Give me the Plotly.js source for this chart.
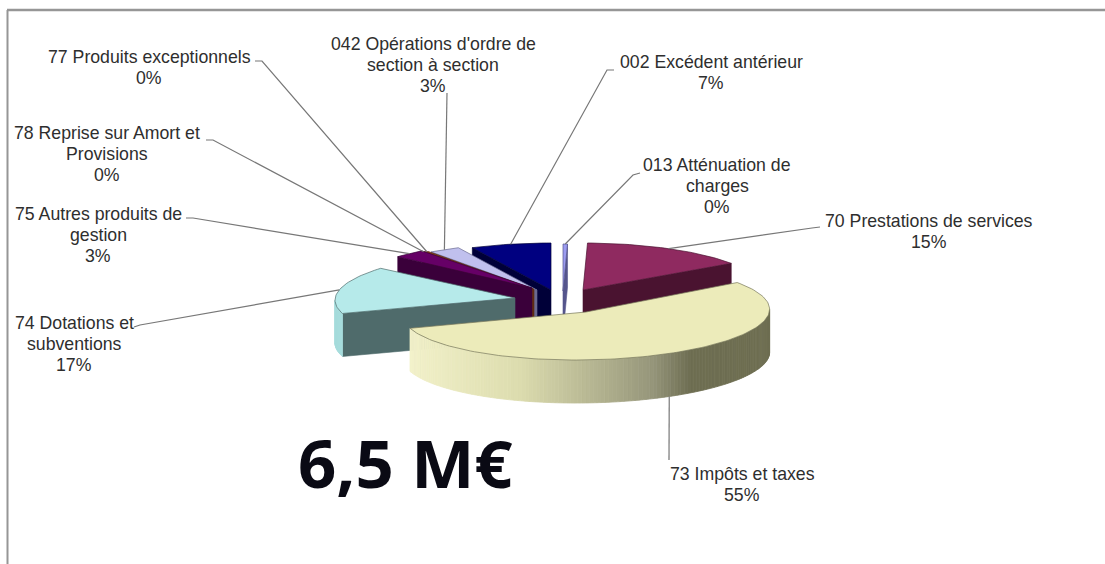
<!DOCTYPE html>
<html><head><meta charset="utf-8">
<script src="https://cdn.plot.ly/plotly-3.0.1.min.js"></script>
<style>html,body{margin:0;padding:0;background:#fff}#c{width:1105px;height:564px}</style>
</head><body><div id="c"></div><script>
// Data, in pie order, clockwise from 12 o'clock
const categories = ["013 Atténuation de charges","70 Prestations de services","73 Impôts et taxes","74 Dotations et subventions","75 Autres produits de gestion","78 Reprise sur Amort et Provisions","77 Produits exceptionnels","042 Opérations d'ordre de section à section","002 Excédent antérieur"];
const values = [0.4,15,55,16.2,2.9,0.2,0.3,2.8,7.2];
const percents = ["0%","15%","55%","17%","3%","0%","0%","3%","7%"];
const labelLines = [["013 Atténuation de","charges"],["70 Prestations de services"],["73 Impôts et taxes"],["74 Dotations et","subventions"],["75 Autres produits de","gestion"],["78 Reprise sur Amort et","Provisions"],["77 Produits exceptionnels"],["042 Opérations d'ordre de","section à section"],["002 Excédent antérieur"]];
const totalLabel = "6,5 M€";

// Appearance
const topCol  = ["#9c9cf0","#8f2a60","#ecebba","#b6eaea","#660066","#c8641e","#a04a20","#c0c0ee","#000080"];
const sideCol = ["#55558c","#4a1330","#8f8f70","#4f6b6b","#3a003a","#6a3410","#5a2a10","#6a6a90","#000038"];
const arcCol  = [null,null,null,"#a6dcdc",null,null,null,null,null];
const apexX = [563,583,586,515,532,533,534,537,551];
const apexY = [291,290,312,298,288,289,289.5,290,290];
const scaleR = [1,1,1.02,1,1,1,1,1,1];
const tilt = [0,0,0.015,0.012,0,0,0,0,0];
const RX = 180, RY = 47, DEPTH = 43;
// outer end of each leader: list of points running from the label towards the pie
const leaderFrom = [[[640,173],[633,175]],[[820,227],[812,228]],[[669,460]],[[134,327],[140,325]],[[186,218],[193,218]],[[206,140],[213,140]],[[255,61],[262,61]],[[447,93]],[[614,70],[607,70]]];
const leaderShift = [0,0,-1.4,0,0,0,0,0,0];
const labelCx = [717,929,742,74,98,107,149,433,711];
const labelY0 = [165,221,474,323,214,133,57,44,62];
const LINE_H = 21;

const rad = d => d*Math.PI/180;
const pt = (i,t,z) => {
  const dx=RX*scaleR[i]*Math.sin(rad(t));
  return [apexX[i]+dx, apexY[i]-RY*scaleR[i]*Math.cos(rad(t))-tilt[i]*dx+(z||0)];
};
const traces = [];
function poly(P, fill, line, w){
  traces.push({type:'scatter',mode:'lines',x:P.map(p=>p[0]).concat(P[0][0]),y:P.map(p=>p[1]).concat(P[0][1]),
    fill:'toself',fillcolor:fill,line:{color:line||fill,width:w===undefined?0.6:w},hoverinfo:'skip',showlegend:false});
}
function hex(c){return [1,3,5].map(k=>parseInt(c.substr(k,2),16));}
const ramp = [[410,"#f2f1ca"],[520,"#dcdcae"],[653,"#95957a"],[690,"#6e6e52"],[800,"#6e6e52"]];
function rampCol(x){
  for(let k=0;k<ramp.length-1;k++){
    if(x<=ramp[k+1][0]){
      const f=Math.max(0,(x-ramp[k][0])/(ramp[k+1][0]-ramp[k][0]));
      const a=hex(ramp[k][1]),b=hex(ramp[k+1][1]);
      return 'rgb('+a.map((v,j)=>Math.round(v+(b[j]-v)*f)).join(',')+')';
    }
  }
  return ramp[ramp.length-1][1];
}
// angular spans from the values
const total = values.reduce((a,b)=>a+b,0);
const spans = []; let acc=0;
values.forEach(v=>{spans.push([acc/total*360,(acc+v)/total*360]);acc+=v;});
// draw back to front
[0,1,8,7,6,5,4,3,2].forEach(i=>{
  const [s,e]=spans[i];
  const ap=[apexX[i],apexY[i]];
  const wall=t=>{const a=pt(i,t),b=pt(i,t,DEPTH);return [ap,a,b,[ap[0],ap[1]+DEPTH]];};
  if(Math.sin(rad(e))>0) poly(wall(e),sideCol[i]);
  if(Math.sin(rad(s))<0) poly(wall(s),sideCol[i]);
  // curved outer wall, only the part facing the viewer
  const a0=Math.max(s,90),a1=Math.min(e,270);
  if(a1>a0){
    const n=Math.max(2,Math.round((a1-a0)/1.2));
    for(let k=0;k<n;k++){
      const t0=a0+(a1-a0)*k/n,t1=a0+(a1-a0)*(k+1)/n;
      const p=[pt(i,t0),pt(i,t1),pt(i,t1,DEPTH),pt(i,t0,DEPTH)];
      const c=arcCol[i]||rampCol((p[0][0]+p[1][0])/2);
      poly(p,c,c,0.8);
    }
  }
  // top face
  const P=[ap];
  const n=Math.max(2,Math.round((e-s)/1.5));
  for(let k=0;k<=n;k++)P.push(pt(i,s+(e-s)*k/n));
  poly(P,topCol[i],i===2?"#77775a":sideCol[i],0.7);
});
// leader lines, ending on the slice's mid-angle
categories.forEach((c,i)=>{
  const m=(spans[i][0]+spans[i][1])/2+leaderShift[i];
  const end=pt(i,m,i===2?DEPTH:0);
  const P=leaderFrom[i].concat([end]);
  traces.push({type:'scatter',mode:'lines',x:P.map(p=>p[0]),y:P.map(p=>p[1]),line:{color:'#777777',width:1.2},hoverinfo:'skip',showlegend:false});
});
// labels
const annotations=[];
categories.forEach((c,i)=>{
  labelLines[i].concat(percents[i]).forEach((t,k)=>{
    annotations.push({xref:'x',yref:'y',x:labelCx[i],y:labelY0[i]+k*LINE_H,text:t,showarrow:false,xanchor:'center',yanchor:'middle',
      font:{family:'"Liberation Sans",Arial,sans-serif',size:17.7,color:'#2e2e2e'}});
  });
});
annotations.push({xref:'x',yref:'y',x:405,y:462,text:'<b>'+totalLabel+'</b>',showarrow:false,xanchor:'center',yanchor:'middle',
  font:{family:'"Open Sans",sans-serif',size:67,color:'#0a0a14'}});
const shapes=[
  {type:'line',xref:'x',yref:'y',x0:7,x1:1105,y0:10,y1:10,line:{color:'#969696',width:2.5}},
  {type:'line',xref:'x',yref:'y',x0:7.5,x1:7.5,y0:10,y1:564,line:{color:'#969696',width:2}}
];
Plotly.newPlot('c',traces,{
  width:1105,height:564,margin:{l:0,r:0,t:0,b:0},paper_bgcolor:'#fff',plot_bgcolor:'#fff',showlegend:false,
  xaxis:{range:[0,1105],visible:false,fixedrange:true},
  yaxis:{range:[564,0],visible:false,fixedrange:true},
  annotations:annotations,shapes:shapes
},{displayModeBar:false,staticPlot:true});
</script></body></html>
